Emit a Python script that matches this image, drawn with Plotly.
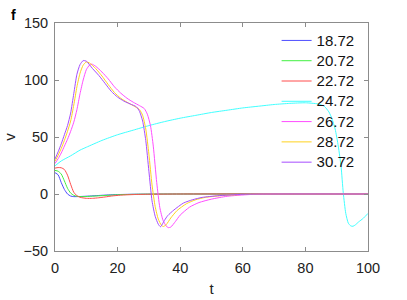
import plotly.graph_objects as go

# v(t) curves for different initial values
labels = ["18.72", "20.72", "22.72", "24.72", "26.72", "28.72", "30.72"]
colors = ["#4d4dff", "#40f040", "#ff4d4d", "#40ffff", "#ff4dff", "#ffd21f", "#a64dff"]

t_1872 = [0, 1, 2, 3, 4, 5, 6, 8, 11, 14, 17, 20, 25, 30, 40, 100]
v_1872 = [18.7, 16.8, 10, 4, 0, -1.8, -2.3, -2.2, -1.8, -1.3, -0.8, -0.5, -0.2, -0.1, 0, 0]

t_2072 = [0, 1, 2, 3, 4, 5, 6, 7, 9, 12, 16, 20, 25, 30, 40, 100]
v_2072 = [20.7, 20, 17.5, 11.5, 5, 0.8, -1.2, -2, -2.3, -1.9, -1.3, -0.7, -0.3, -0.1, 0, 0]

t_2272 = [0, 1, 2, 3, 4, 5, 6, 7, 8, 10, 12, 14, 16, 18, 21, 25, 30, 40, 100]
v_2272 = [22.7, 23.2, 23, 21.5, 16.5, 8.5, 1.5, -1.5, -2.9, -3.8, -3.8, -3.3, -2.6, -1.8, -1, -0.5, -0.2, 0, 0]

t_2472 = [0, 2, 5, 8, 10, 15, 20, 25, 30, 35, 40, 45, 50, 55, 60, 65, 70, 75, 80,
          84, 86, 87.5, 88.5, 89.5, 90.5, 91.4, 92.1, 92.9, 93.7, 94.5, 95.2, 96, 97, 98.5, 100]
v_2472 = [24.7, 29, 33.5, 38.5, 41, 47, 52, 56, 60, 63.5, 66.5, 69, 71.5, 73.5, 75.5, 77, 78.5, 79.5, 80,
          79, 77, 72, 66, 57, 42, 24, 1, -17, -25.5, -28, -28.3, -27, -24.5, -21.3, -17]

t_2672 = [0, 1, 2, 3, 4, 5, 6, 7, 8, 9, 10, 11, 11.7, 13, 15, 17, 19, 21, 23, 25, 27, 28.5, 29.5,
          30.5, 31.4, 32.5, 33.5, 34.5, 35.5, 36.2, 37, 38.5, 40, 43, 46, 50, 55, 62, 70, 100]
v_2672 = [26.7, 31, 36, 42, 48, 55, 63, 74, 88, 100, 109, 113, 114, 112, 107, 101, 94, 88.5, 84, 80.5, 77.5, 75, 70,
          60, 42, 10, -12, -23, -28, -29.5, -29, -24, -18.5, -11.5, -7.5, -4.5, -2, -0.5, 0, 0]

t_2872 = [0, 1, 2, 3, 4, 5, 6, 7, 8, 9, 10, 11, 13, 15, 17, 19, 21, 23, 25, 27, 28, 29, 30, 31,
          32, 33, 34, 34.6, 35.5, 37, 39, 42, 45, 48, 53, 60, 70, 100]
v_2872 = [28.7, 34, 40, 47, 55, 64, 78, 94, 106, 113, 115.8, 115, 110, 103.5, 96, 89, 84, 80.5, 77.5, 74, 69, 57, 35, 8,
          -11, -22, -27.5, -28.5, -27, -21, -14.5, -8.5, -5, -3, -1.5, -0.4, 0, 0]

t_3072 = [0, 1, 2, 3, 4, 5, 6, 7, 8, 9, 10, 12, 14, 16, 18, 20, 22, 24, 26, 27, 28, 29, 30, 31,
          32, 33, 33.7, 35, 36, 38, 41, 44, 47, 52, 60, 70, 100]
v_3072 = [30.7, 37, 44, 52, 60, 71, 88, 105, 113.5, 117, 116.5, 110, 104, 97, 90, 85, 81.5, 79, 76.5, 72.5, 64, 47, 20, -6,
          -19.5, -26.5, -28.7, -23, -19, -14, -8, -5, -3, -1.5, -0.3, 0, 0]

ts = [t_1872, t_2072, t_2272, t_2472, t_2672, t_2872, t_3072]
vs = [v_1872, v_2072, v_2272, v_2472, v_2672, v_2872, v_3072]

fig = go.Figure()
for name, col, t, v in zip(labels, colors, ts, vs):
    # bigger text inside the legend, while the row spacing follows legend.font.size
    fig.add_trace(go.Scatter(x=t, y=v, name='<span style="font-size:15px">%s</span>' % name,
                             mode="lines",
                             line=dict(color=col, width=1, shape="spline", smoothing=0.6)))

axis_style = dict(showgrid=False, zeroline=False, showline=True, linecolor="#8c8c8c",
                  linewidth=1, mirror="ticks", ticks="inside", ticklen=4, tickcolor="#8c8c8c",
                  tickfont=dict(size=14.5, color="#222"), automargin=False)

fig.update_xaxes(range=[0, 100], tickvals=[0, 20, 40, 60, 80, 100], ticklabelstandoff=4,
                 title=dict(text="t", font=dict(size=15, color="#222"), standoff=8), **axis_style)
fig.update_yaxes(range=[-50, 150], tickvals=[-50, 0, 50, 100, 150], ticklabelstandoff=3,
                 title=dict(text="v", font=dict(size=15, color="#222"), standoff=4), **axis_style)

fig.add_annotation(text="<b>f</b>", xref="paper", yref="paper", x=-0.148, y=1.08,
                   xanchor="left", yanchor="top", showarrow=False,
                   font=dict(size=14, color="#000"))

fig.update_layout(
    width=407, height=300,
    margin=dict(l=55, r=39, t=23, b=49),
    plot_bgcolor="white", paper_bgcolor="white",
    font=dict(family="Liberation Sans, Arial, sans-serif"),
    legend=dict(x=0.708, y=0.99, xanchor="left", yanchor="top",
                bgcolor="rgba(0,0,0,0)", font=dict(size=13.3, color="#111"),
                tracegroupgap=0),
    showlegend=True,
)

# drop the page's default body margin so the figure sits at the window's corner
fig.write_html("out.html", config={"displayModeBar": False},
               post_script="document.body.style.margin='0';")
